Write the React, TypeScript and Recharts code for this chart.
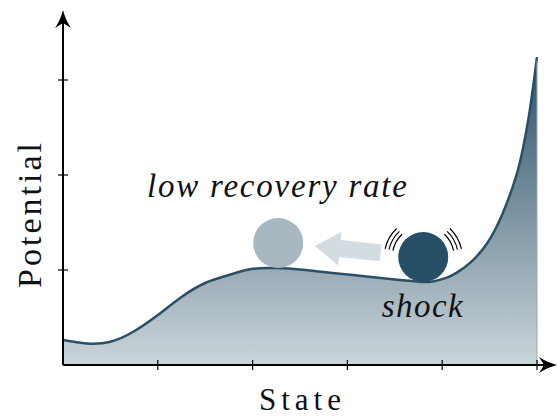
import React from 'react';
import { AreaChart, Area, XAxis, YAxis, ReferenceDot, ReferenceLine } from 'recharts';

// potential curve
const stateX = [0, 0.25, 0.5, 0.75, 1.0, 1.25, 1.5, 1.75, 2.0, 2.25, 2.5, 2.75, 3.0, 3.25, 3.5, 3.75, 3.9, 4.05, 4.15, 4.3, 4.48, 4.64, 4.79, 4.87, 4.93, 5.0];
const potential = [0.263, 0.226, 0.245, 0.355, 0.526, 0.716, 0.863, 0.947, 1.012, 1.02, 1.005, 0.979, 0.953, 0.926, 0.9, 0.877, 0.88, 0.92, 0.97, 1.08, 1.29, 1.6, 2.02, 2.37, 2.72, 3.24];

const xTicks = [1, 2, 3, 4, 5];
const yTicks = [1, 2, 3];

// annotation anchors (data coords)
const restingBall = { x: 2.27, y: 1.284 };
const shockedBall = { x: 3.8, y: 1.137 };
const pushArrowTip = { x: 2.658, y: 1.253 };
const recoveryLabel = { x: 2.257, y: 1.768, text: 'low recovery rate' };
const shockLabel = { x: 3.79, y: 0.505, text: 'shock' };

const data = stateX.map((x, i) => ({ x, v: potential[i] }));

const FONT = "'Liberation Serif', 'DejaVu Serif', serif";

const XTick = (props: any) => (
  <line x1={props.x} x2={props.x} y1={props.y - 5} y2={props.y + 5} stroke="#000" strokeWidth={1.2} />
);
const YTick = (props: any) => (
  <line x1={props.x - 5} x2={props.x + 5} y1={props.y} y2={props.y} stroke="#000" strokeWidth={1.2} />
);

const arc = (cx: number, cy: number, r: number, a0: number, a1: number) => {
  const t0 = (a0 * Math.PI) / 180;
  const t1 = (a1 * Math.PI) / 180;
  const p0 = [cx + r * Math.cos(t0), cy - r * Math.sin(t0)];
  const p1 = [cx + r * Math.cos(t1), cy - r * Math.sin(t1)];
  return `M${p0[0]},${p0[1]} A${r},${r} 0 0 0 ${p1[0]},${p1[1]}`;
};

const ShakeMarks = ({ cx, cy }: any) => (
  <g fill="none" stroke="#000" strokeWidth={1.2}>
    {[31, 35, 39].map((r) => (
      <React.Fragment key={r}>
        <path d={arc(cx, cy, r, 133, 168)} />
        <path d={arc(cx, cy, r, 12, 47)} />
      </React.Fragment>
    ))}
  </g>
);

const PushArrow = ({ cx, cy }: any) => (
  <polygon
    transform={`rotate(6 ${cx} ${cy})`}
    points={`${cx},${cy} ${cx + 25},${cy - 17} ${cx + 25},${cy - 8.5} ${cx + 66},${cy - 8.5} ${cx + 66},${cy + 8.5} ${cx + 25},${cy + 8.5} ${cx + 25},${cy + 17}`}
    fill="#d3dce0"
  />
);

const textShape = (text: string, len: number) => ({ cx, cy }: any) => (
  <text x={cx} y={cy} textAnchor="middle" fontFamily={FONT} fontStyle="italic" fontSize={33} fill="#111"
    textLength={len} lengthAdjust="spacing">
    {text}
  </text>
);

export default function App() {
  return (
    <div style={{ position: 'absolute', left: 0, top: 0, background: '#fff' }}>
      <AreaChart width={557} height={419} data={data} margin={{ top: 23, right: 13, left: 0, bottom: 0 }}>
        <defs>
          <linearGradient id="potFill" x1="0" y1="0" x2="0" y2="1">
            <stop offset="0%" stopColor="#2b5068" />
            <stop offset="100%" stopColor="#cbd5da" />
          </linearGradient>
          <marker id="axisArrow" markerUnits="userSpaceOnUse" markerWidth={20} markerHeight={18}
            viewBox="0 -9 20 18" refX={5} refY={0} orient="auto-start-reverse" overflow="visible">
            <path d="M18,0 C12,1.5 5,4.5 0,8 L5,0 L0,-8 C5,-4.5 12,-1.5 18,0 Z" fill="#000" />
          </marker>
        </defs>
        <XAxis
          type="number"
          dataKey="x"
          domain={[0, 5.074]}
          allowDataOverflow
          ticks={xTicks}
          height={54}
          tickSize={0}
          tickMargin={0}
          tickLine={false}
          tick={<XTick />}
          axisLine={{ stroke: '#000', strokeWidth: 2, markerEnd: 'url(#axisArrow)' }}
          label={(p: any) => (
            <text x={300} y={p.viewBox.y + 45} textAnchor="middle"
              fontFamily={FONT} fontSize={31} fill="#111" textLength={82} lengthAdjust="spacing">
              State
            </text>
          )}
        />
        <YAxis
          type="number"
          domain={[0, 3.6]}
          allowDataOverflow
          ticks={yTicks}
          width={63}
          tickSize={0}
          tickMargin={0}
          tickLine={false}
          tick={<YTick />}
          axisLine={{ stroke: '#000', strokeWidth: 2, markerStart: 'url(#axisArrow)' }}
          label={() => {
            const cx = 41;
            const cy = 215.5;
            return (
              <text x={cx} y={cy} transform={`rotate(-90 ${cx} ${cy})`} textAnchor="middle"
                fontFamily={FONT} fontSize={34} fill="#111" textLength={145} lengthAdjust="spacing">
                Potential
              </text>
            );
          }}
        />
        <Area
          type="natural"
          dataKey="v"
          baseValue={0}
          stroke="#2a4f66"
          strokeWidth={2.5}
          fill="url(#potFill)"
          fillOpacity={1}
          isAnimationActive={false}
        />
        <ReferenceLine segment={[{ x: 5, y: 0 }, { x: 5, y: 3.2 }]} stroke="#9aa6ad" strokeWidth={1} />
        <ReferenceDot x={restingBall.x} y={restingBall.y} r={25} fill="#a8b8c1" stroke="none" />
        <ReferenceDot x={pushArrowTip.x} y={pushArrowTip.y} r={0} shape={PushArrow} />
        <ReferenceDot x={shockedBall.x} y={shockedBall.y} r={25} fill="#264f66" stroke="none" />
        <ReferenceDot x={shockedBall.x} y={shockedBall.y} r={0} shape={ShakeMarks} />
        <ReferenceDot x={recoveryLabel.x} y={recoveryLabel.y} r={0} shape={textShape(recoveryLabel.text, 260)} />
        <ReferenceDot x={shockLabel.x} y={shockLabel.y} r={0} shape={textShape(shockLabel.text, 81)} />
      </AreaChart>
    </div>
  );
}
